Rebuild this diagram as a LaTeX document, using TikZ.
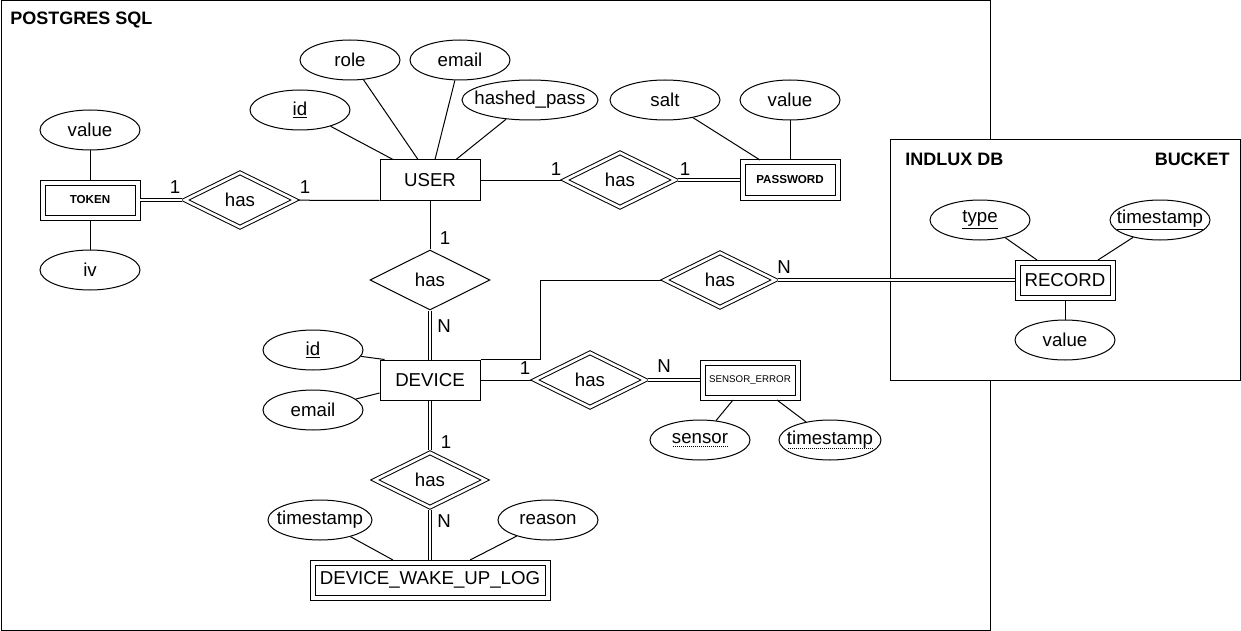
\documentclass[tikz,border=0pt]{standalone}
\usepackage{fontspec}
\setmainfont{Liberation Sans}
\usetikzlibrary{shapes.geometric}

\newcommand\dotul[1]{\setbox0\hbox{#1}\rlap{\lower3pt\hbox to\wd0{\leaders\hbox{\kern0.45pt\rule{0.6pt}{0.6pt}\kern0.45pt}\hfill}}\box0}

\tikzstyle{entity}=[rectangle, draw, line width=0.75pt,
                    inner sep=0, minimum width=75pt, minimum height=30pt]
\tikzstyle{weak}=[rectangle, draw, line width=0.75pt, double,
                  double distance=3pt, outer sep=1.875pt, inner sep=0,
                  minimum width=71.25pt, minimum height=26.25pt]
\tikzstyle{attr}=[ellipse, draw, line width=0.75pt, inner xsep=-12pt,
                  inner ysep=0, minimum width=75pt, minimum height=30pt]
\tikzstyle{rel}=[diamond, draw, line width=0.75pt, inner sep=0,
                 minimum width=90pt, minimum height=45pt]
\tikzstyle{weakrel}=[rel, double, double distance=2pt, outer sep=1.375pt,
                     minimum width=83.9pt, minimum height=41.9pt]
\tikzstyle{link}=[-, line width=0.75pt]
\tikzstyle{total}=[-, line width=0.75pt, double, double distance=2pt]
\tikzstyle{card}=[inner sep=0]
\tikzstyle{title}=[inner sep=0, font=\fontsize{13.5}{16}\selectfont\bfseries]
\tikzstyle{smalltext}=[font=\fontsize{8.7}{10}\selectfont\bfseries]

\begin{document}
\begin{tikzpicture}[x=0.75pt, y=-0.75pt, font=\fontsize{14}{17}\selectfont]
  \useasboundingbox (0,0) rectangle (1241,631);

  %%%%%%%%%%%%%%%%%%%%%%%%%%%%%%
  %%%%%%%%%%%%%%%%%%%%%%%%%%%%%%
  % databases
  \draw [line width=0.75pt] (1,1) rectangle (990,630);
  \node (pg_title) at (10,20) [title, anchor=west] {POSTGRES SQL};

  \draw [line width=0.75pt, fill=white] (890,140) rectangle (1240,380);
  \node (flux_title) at (905,159) [title, anchor=west] {INDLUX DB};
  \node (bucket) at (1230,159) [title, anchor=east] {BUCKET};

  %%%%%%%%%%%%%%%%%%%%%%%%%%%%%%
  % entities
  \node (user) at (430,180) [entity] {USER};
  \node (device) at (430,380) [entity] {DEVICE};
  \node (token) at (90,200) [weak, smalltext] {TOKEN};
  \node (password) at (790,180) [weak, smalltext] {PASSWORD};
  \node (sensor_err) at (750,380) [weak, font=\fontsize{7.3}{9}\selectfont] {SENSOR\_ERROR};
  \node (wake_log) at (430,580) [weak, minimum width=176.25pt] {DEVICE\_WAKE\_UP\_LOG};
  \node (record) at (1065,280) [weak] {RECORD};

  %%%%%%%%%%%%%%%%%%%%%%%%%%%%%%
  % attributes
  \node (user_id) at (300,110) [attr] {\underline{id}};
  \node (user_role) at (350,60) [attr] {role};
  \node (user_email) at (460,60) [attr] {email};
  \node (user_hash) at (530,100) [attr, minimum width=102pt] {hashed\_pass};

  \node (pw_salt) at (665,100) [attr, minimum width=82.5pt] {salt};
  \node (pw_value) at (790,100) [attr] {value};

  \node (tok_value) at (90,130) [attr] {value};
  \node (tok_iv) at (90,270) [attr] {iv};

  \node (dev_id) at (313,350) [attr] {\underline{id}};
  \node (dev_email) at (313,410) [attr] {email};

  \node (err_sensor) at (700,440) [attr] {\dotul{sensor}};
  \node (err_time) at (830,440) [attr, minimum width=76.5pt] {\dotul{timestamp}};

  \node (log_time) at (320,520) [attr, minimum width=78pt] {timestamp};
  \node (log_reason) at (548,520) [attr] {reason};

  \node (rec_type) at (980,220) [attr] {\underline{type}};
  \node (rec_time) at (1160,220) [attr] {\underline{timestamp}};
  \node (rec_value) at (1065,340) [attr] {value};

  %%%%%%%%%%%%%%%%%%%%%%%%%%%%%%
  % relations
  \node (has_tok) at (240,200) [weakrel] {has};
  \node (has_pw) at (620,180) [weakrel] {has};
  \node (has_dev) at (430,280) [rel] {has};
  \node (has_err) at (590,380) [weakrel] {has};
  \node (has_rec) at (720,280) [weakrel] {has};
  \node (has_log) at (430,480) [weakrel] {has};

  %%%%%%%%%%%%%%%%%%%%%%%%%%%%%%
  % cardinalities
  \node (c_tok_l) at (175,187) [card] {1};
  \node (c_tok_r) at (305,187) [card] {1};
  \node (c_pw_l) at (556,169) [card] {1};
  \node (c_pw_r) at (685,169) [card] {1};
  \node (c_dev_u) at (445,238) [card] {1};
  \node (c_dev_d) at (444,326) [card] {N};
  \node (c_err_l) at (525,368) [card] {1};
  \node (c_err_r) at (664,366) [card] {N};
  \node (c_rec_r) at (784,267) [card] {N};
  \node (c_log_u) at (446,442) [card] {1};
  \node (c_log_d) at (444,521) [card] {N};

  %%%%%%%%%%%%%%%%%%%%%%%%%%%%%%
  % links
  % attributes
  \draw [link] (user_id) to ([shift={(-37,0)}]user.north);
  \draw [link] (user_role) to ([shift={(-12,0)}]user.north);
  \draw [link] (user_email) to ([shift={(5,0)}]user.north);
  \draw [link] (user_hash) to ([shift={(26,0)}]user.north);

  \draw [link] (pw_salt) to ([shift={(-30,0)}]password.north);
  \draw [link] (pw_value) to (password);

  \draw [link] (tok_value) to (token);
  \draw [link] (token) to (tok_iv);

  \draw [link] (dev_id) to ([shift={(5,0)}]device.north west);
  \draw [link] (dev_email) to ([shift={(0,13)}]device.west);

  \draw [link] (err_sensor) to ([shift={(-17,0)}]sensor_err.south);
  \draw [link] (err_time) to ([shift={(27,0)}]sensor_err.south);

  \draw [link] (log_time) to ([shift={(-37,0)}]wake_log.north);
  \draw [link] (log_reason) to ([shift={(40,0)}]wake_log.north);

  \draw [link] (rec_type) to ([shift={(-28,0)}]record.north);
  \draw [link] (rec_time) to ([shift={(33,0)}]record.north);
  \draw [link] (rec_value) to (record);

  % relations
  \draw [total] (token) to (has_tok);
  \draw [link] (has_tok) to (user.south west);

  \draw [link] (user) to (has_pw);
  \draw [total] (has_pw) to (password);

  \draw [link] (user) to (has_dev);
  \draw [total] (has_dev) to (device);

  \draw [link] (device) to (has_err);
  \draw [total] (has_err) to (sensor_err);

  \draw [link] (device.north east) -- ++(60,0) |- (has_rec.west);
  \draw [total] (has_rec) to (record);

  \draw [total] (device) to (has_log);
  \draw [total] (has_log) to (wake_log);

\end{tikzpicture}
\end{document}
